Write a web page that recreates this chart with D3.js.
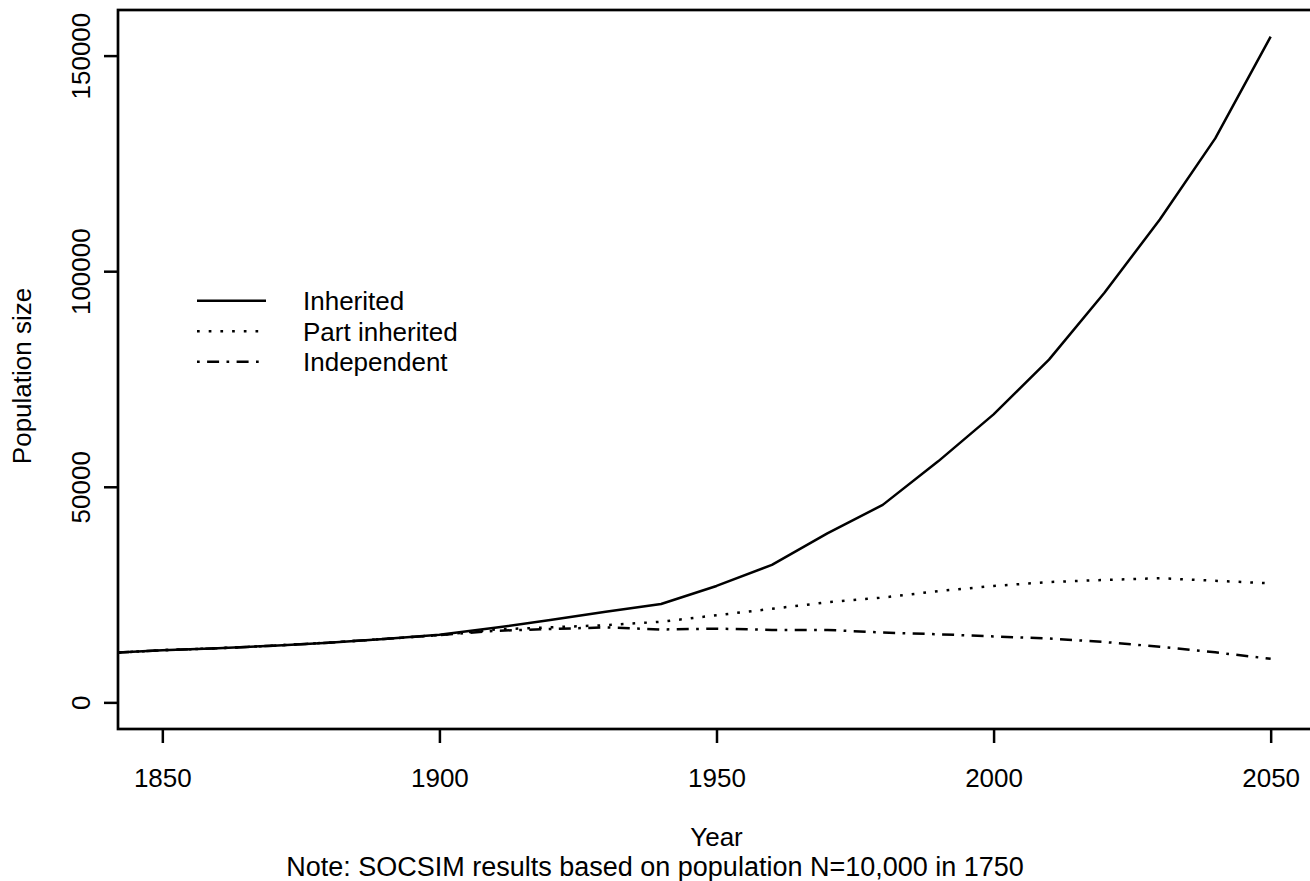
<!DOCTYPE html>
<html>
<head>
<meta charset="utf-8">
<script src="https://cdn.jsdelivr.net/npm/d3@7"></script>
<style>
  html, body { margin: 0; padding: 0; background: #fff; }
  svg { display: block; }
  text { font-family: "Liberation Sans", Arial, Helvetica, sans-serif; fill: #000; }
</style>
</head>
<body>
<svg id="chart" width="1310" height="881"></svg>
<script>
// ---- Data ----
const years = [1840,1850,1860,1870,1880,1890,1900,1910,1920,1930,1940,1950,1960,1970,1980,1990,2000,2010,2020,2030,2040,2050];
const inherited = [11400,12100,12550,13150,13850,14700,15700,17300,19100,21000,22800,27000,31900,39200,45800,55900,66800,79500,95000,112000,130800,154400];
const partInherited = [11400,12100,12550,13150,13850,14700,15600,16900,17400,17900,18700,20200,21700,23200,24300,25800,27000,27900,28400,28800,28200,27600];
const independent = [11400,12100,12550,13150,13850,14700,15600,16600,17000,17400,16900,17100,16800,16800,16200,15800,15300,14800,14000,12900,11600,10100];

const seriesNames = ["Inherited", "Part inherited", "Independent"];
const xTicks = [1850, 1900, 1950, 2000, 2050];
const yTicks = [0, 50000, 100000, 150000];
const xLabel = "Year";
const yLabel = "Population size";
const note = "Note: SOCSIM results based on population N=10,000 in 1750";

// ---- Layout ----
const plot = { left: 118, top: 10, right: 1315, bottom: 729 };
const fs = 26;
const svg = d3.select("#chart");

// R-style 4% axis extension
const xDataLim = [1850, 2050];
const yDataLim = [0, d3.max(inherited)];
const pad = (lim) => { const r = lim[1] - lim[0]; return [lim[0] - 0.04 * r, lim[1] + 0.04 * r]; };

const x = d3.scaleLinear().domain(pad(xDataLim)).range([plot.left, plot.right]);
const y = d3.scaleLinear().domain(pad(yDataLim)).range([plot.bottom, plot.top]);

svg.append("defs").append("clipPath").attr("id", "plotclip")
  .append("rect")
  .attr("x", plot.left).attr("y", plot.top)
  .attr("width", plot.right - plot.left).attr("height", plot.bottom - plot.top);

const styles = [
  { dash: null },
  { dash: "2.7,9" },
  { dash: "2.7,7.4,12,7.4" }
];
const seriesData = [inherited, partInherited, independent];

const line = d3.line().x(d => x(d[0])).y(d => y(d[1]));
const gLines = svg.append("g").attr("clip-path", "url(#plotclip)");
seriesData.forEach((vals, i) => {
  gLines.append("path")
    .datum(years.map((yr, j) => [yr, vals[j]]))
    .attr("d", line)
    .attr("fill", "none")
    .attr("stroke", "#000")
    .attr("stroke-width", 2.5)
    .attr("stroke-linejoin", "round")
    .attr("stroke-dasharray", styles[i].dash);
});

// Box
svg.append("rect")
  .attr("x", plot.left).attr("y", plot.top)
  .attr("width", plot.right - plot.left).attr("height", plot.bottom - plot.top)
  .attr("fill", "none").attr("stroke", "#000").attr("stroke-width", 2.7);

// X axis
const xAxis = svg.append("g")
  .attr("transform", `translate(0,${plot.bottom})`)
  .call(d3.axisBottom(x).tickValues(xTicks).tickSize(14).tickFormat(d3.format("d")));
xAxis.select(".domain").remove();
xAxis.selectAll(".tick line").attr("stroke", "#000").attr("stroke-width", 2.5);
xAxis.selectAll(".tick text")
  .attr("y", 58).attr("dy", 0)
  .style("font-size", fs + "px")
  .style("font-family", "'Liberation Sans', Arial, sans-serif");

// Y axis
const yAxis = svg.append("g")
  .attr("transform", `translate(${plot.left},0)`)
  .call(d3.axisLeft(y).tickValues(yTicks).tickSize(14).tickFormat(d3.format("d")));
yAxis.select(".domain").remove();
yAxis.selectAll(".tick line").attr("stroke", "#000").attr("stroke-width", 2.5);
yAxis.selectAll(".tick text")
  .attr("transform", "rotate(-90)")
  .attr("x", 0).attr("y", -28).attr("dy", 0)
  .attr("text-anchor", "middle")
  .style("font-size", fs + "px")
  .style("font-family", "'Liberation Sans', Arial, sans-serif");

// Axis titles
svg.append("text")
  .attr("x", (plot.left + plot.right) / 2).attr("y", 846)
  .attr("text-anchor", "middle").style("font-size", fs + "px")
  .text(xLabel);
svg.append("text")
  .attr("x", 655).attr("y", 875.5)
  .attr("text-anchor", "middle").style("font-size", "27px")
  .text(note);
svg.append("text")
  .attr("transform", `translate(31,376) rotate(-90)`)
  .attr("text-anchor", "middle").style("font-size", fs + "px")
  .text(yLabel);

// Legend
const legY = [300.7, 331.2, 361.7];
const legend = svg.append("g");
seriesNames.forEach((name, i) => {
  legend.append("line")
    .attr("x1", 197).attr("x2", 266)
    .attr("y1", legY[i]).attr("y2", legY[i])
    .attr("stroke", "#000").attr("stroke-width", 2.5)
    .attr("stroke-dasharray", styles[i].dash);
  legend.append("text")
    .attr("x", 303).attr("y", legY[i]).attr("dy", "0.36em")
    .style("font-size", fs + "px")
    .text(name);
});
</script>
</body>
</html>
